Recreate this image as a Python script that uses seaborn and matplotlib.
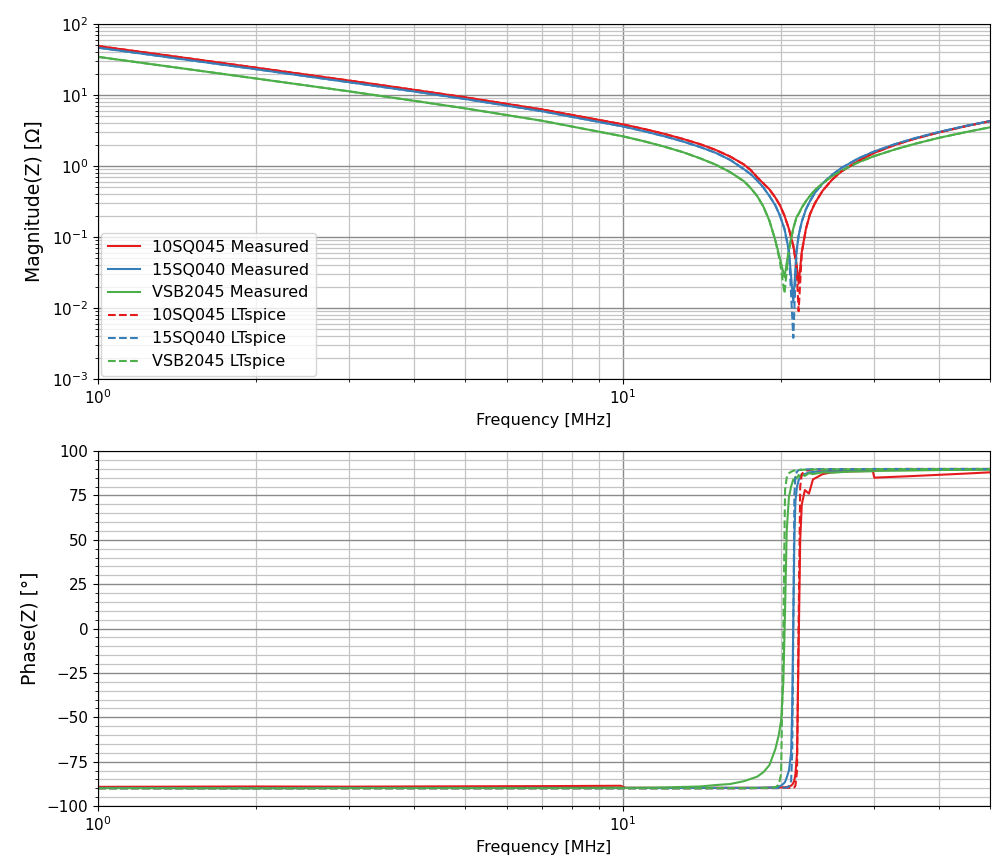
import matplotlib
matplotlib.use("Agg")
import matplotlib.pyplot as plt
from matplotlib.ticker import MultipleLocator
import seaborn as sns

# ---------------- impedance magnitude [Ohm] ----------------
freq_mag = [1.0, 1.5, 2.0, 3.0, 4.0, 5.0, 7.0, 10.0, 11.0, 12.0, 13.0, 14.0,
            15.0, 16.0, 17.0, 17.5, 18.0, 18.5, 19.0, 19.5, 19.9, 20.3, 20.7,
            21.1, 21.4, 21.6, 21.9, 22.3, 22.7, 23.2, 24.0, 25.0, 26.0, 28.0,
            30.0, 33.0, 36.0, 40.0, 45.0, 50.0]

mag_10sq045_meas = [49.0, 32.6, 24.3, 16.05, 11.85, 9.3, 6.28, 3.86, 3.31, 2.83,
                    2.41, 2.04, 1.69, 1.36, 1.05, 0.88, 0.70, 0.57, 0.47, 0.36,
                    0.28, 0.20, 0.13, 0.075, 0.042, 0.022, 0.062, 0.13, 0.21,
                    0.30, 0.45, 0.64, 0.83, 1.17, 1.52, 1.99, 2.43, 2.98, 3.65,
                    4.28]
mag_15sq040_meas = [46.5, 30.9, 23.1, 15.2, 11.23, 8.8, 5.93, 3.61, 3.08, 2.62,
                    2.22, 1.86, 1.54, 1.22, 0.90, 0.77, 0.63, 0.50, 0.38, 0.28,
                    0.20, 0.13, 0.065, 0.012, 0.063, 0.105, 0.165, 0.245, 0.32,
                    0.42, 0.57, 0.75, 0.93, 1.27, 1.59, 2.04, 2.47, 3.02, 3.68,
                    4.30]
mag_vsb2045_meas = [34.5, 22.9, 17.1, 11.3, 8.3, 6.5, 4.35, 2.62, 2.22, 1.87,
                    1.57, 1.29, 1.05, 0.82, 0.61, 0.49, 0.38, 0.27, 0.17, 0.09,
                    0.05, 0.027, 0.068, 0.132, 0.19, 0.212, 0.26, 0.32, 0.38,
                    0.46, 0.57, 0.72, 0.85, 1.12, 1.37, 1.72, 2.06, 2.5, 3.01,
                    3.51]

mag_10sq045_sim = [49.0, 32.6, 24.3, 16.05, 11.85, 9.3, 6.28, 3.86, 3.31, 2.83,
                   2.41, 2.04, 1.69, 1.36, 1.05, 0.88, 0.70, 0.57, 0.47, 0.36,
                   0.28, 0.20, 0.13, 0.075, 0.038, 0.009, 0.060, 0.13, 0.21,
                   0.30, 0.45, 0.64, 0.83, 1.17, 1.52, 1.99, 2.43, 2.98, 3.65,
                   4.28]
mag_15sq040_sim = [46.5, 30.9, 23.1, 15.2, 11.23, 8.8, 5.93, 3.61, 3.08, 2.62,
                   2.22, 1.86, 1.54, 1.22, 0.90, 0.77, 0.63, 0.50, 0.38, 0.28,
                   0.20, 0.13, 0.062, 0.0038, 0.062, 0.105, 0.165, 0.245, 0.32,
                   0.42, 0.57, 0.75, 0.93, 1.27, 1.59, 2.04, 2.47, 3.02, 3.68,
                   4.30]
mag_vsb2045_sim = [34.5, 22.9, 17.1, 11.3, 8.3, 6.5, 4.35, 2.62, 2.22, 1.87,
                   1.57, 1.29, 1.05, 0.82, 0.61, 0.49, 0.38, 0.27, 0.17, 0.09,
                   0.045, 0.016, 0.066, 0.132, 0.19, 0.212, 0.26, 0.32, 0.38,
                   0.46, 0.57, 0.72, 0.85, 1.12, 1.37, 1.72, 2.06, 2.5, 3.01,
                   3.51]

# ---------------- impedance phase [deg] ----------------
freq_ph = [1.0, 2.0, 3.0, 5.0, 7.0, 9.9, 10.1, 12.0, 14.0, 15.0, 16.0, 17.0,
           18.0, 18.5, 19.0, 19.5, 19.8, 20.0, 20.2, 20.35, 20.5, 20.7, 20.9,
           21.0, 21.1, 21.2, 21.3, 21.45, 21.6, 21.75, 21.9, 22.2, 22.6, 23.0,
           24.0, 25.0, 27.0, 29.9, 30.1, 35.0, 40.0, 45.0, 50.0]

ph_10sq045_meas = [-89.2, -89.0, -89.1, -88.9, -88.8, -88.6, -89.7, -89.8, -89.8,
                   -89.7, -89.8, -89.7, -89.8, -89.7, -89.6, -89.6, -89.5, -89.5,
                   -89.4, -89.4, -89.3, -89.0, -88.5, -88.0, -87.0, -85.5, -82.0,
                   -70.0, -10.0, 50.0, 70.0, 78.0, 76.0, 84.0, 87.0, 88.0, 88.5,
                   88.8, 85.0, 85.8, 86.6, 87.3, 88.0]
ph_15sq040_meas = [-89.8, -89.9, -89.8, -89.9, -89.8, -89.9, -89.8, -89.9, -89.8,
                   -89.8, -89.7, -89.8, -89.7, -89.7, -89.6, -89.5, -89.0, -88.5,
                   -87.5, -86.5, -84.0, -80.0, -70.0, -45.0, 5.0, 50.0, 72.0,
                   80.0, 83.5, 85.0, 86.5, 87.0, 88.0, 88.2, 88.6, 88.8, 89.0,
                   89.2, 89.2, 89.4, 89.5, 89.6, 89.7]
ph_vsb2045_meas = [-89.9, -90.1, -89.9, -89.8, -89.9, -89.7, -89.8, -89.5, -89.0,
                   -88.2, -87.6, -86.0, -83.5, -81.0, -77.0, -68.0, -60.0, -52.0,
                   -30.0, 10.0, 55.0, 74.0, 80.0, 82.0, 84.0, 83.0, 85.5, 84.5,
                   86.5, 85.5, 87.0, 86.0, 87.5, 87.0, 88.0, 87.8, 88.4, 88.6,
                   88.8, 89.0, 89.3, 89.4, 89.5]

ph_10sq045_sim = [-90.0, -90.0, -90.0, -90.0, -90.0, -90.0, -90.0, -90.0, -90.0,
                  -90.0, -90.0, -90.0, -89.9, -89.9, -89.9, -89.9, -89.9, -89.8,
                  -89.8, -89.8, -89.8, -89.7, -89.7, -89.6, -89.5, -89.5, -88.5,
                  -80.0, 5.0, 80.0, 87.0, 88.8, 89.3, 89.5, 89.6, 89.7, 89.8,
                  89.8, 89.8, 89.9, 89.9, 89.9, 89.9]
ph_15sq040_sim = [-90.0, -90.0, -90.0, -90.0, -90.0, -90.0, -90.0, -90.0, -90.0,
                  -90.0, -90.0, -90.0, -89.9, -89.9, -89.9, -89.9, -89.8, -89.8,
                  -89.7, -89.7, -89.6, -89.0, -86.0, -70.0, 0.0, 75.0, 86.0,
                  88.5, 89.2, 89.4, 89.5, 89.6, 89.7, 89.7, 89.8, 89.8, 89.8,
                  89.9, 89.9, 89.9, 89.9, 89.9, 89.9]
ph_vsb2045_sim = [-90.0, -90.0, -90.0, -90.0, -90.0, -90.0, -90.0, -90.0, -90.0,
                  -89.9, -89.9, -89.9, -89.8, -89.8, -89.7, -89.5, -88.0, -82.0,
                  0.0, 78.0, 85.0, 87.5, 88.3, 88.6, 88.9, 89.0, 89.1, 89.2,
                  89.3, 89.4, 89.4, 89.5, 89.5, 89.6, 89.6, 89.7, 89.7, 89.8,
                  89.8, 89.8, 89.9, 89.9, 89.9]

parts = ["10SQ045", "15SQ040", "VSB2045"]
mag_meas = [mag_10sq045_meas, mag_15sq040_meas, mag_vsb2045_meas]
mag_sim = [mag_10sq045_sim, mag_15sq040_sim, mag_vsb2045_sim]
ph_meas = [ph_10sq045_meas, ph_15sq040_meas, ph_vsb2045_meas]
ph_sim = [ph_10sq045_sim, ph_15sq040_sim, ph_vsb2045_sim]

colors = sns.color_palette("Set1", 3)

fig = plt.figure(figsize=(9.92, 8.56), dpi=100)
ax1 = fig.add_axes([0.0988, 0.5572, 0.8992, 0.4147])
ax2 = fig.add_axes([0.0988, 0.0584, 0.8992, 0.4147])

for ax in (ax1, ax2):
    ax.set_xscale("log")
ax1.set_yscale("log")

# Measured traces first, simulated (dashed) drawn on top
for name, col, ys in zip(parts, colors, mag_meas):
    sns.lineplot(x=freq_mag, y=ys, ax=ax1, color=col, linewidth=1.5,
                 label=f"{name} Measured", estimator=None, legend=False)
for name, col, ys in zip(parts, colors, mag_sim):
    sns.lineplot(x=freq_mag, y=ys, ax=ax1, color=col, linewidth=1.5,
                 linestyle="--", label=f"{name} LTspice", estimator=None,
                 legend=False)

for col, ys in zip(colors, ph_meas):
    sns.lineplot(x=freq_ph, y=ys, ax=ax2, color=col, linewidth=1.5,
                 estimator=None, legend=False)
for col, ys in zip(colors, ph_sim):
    sns.lineplot(x=freq_ph, y=ys, ax=ax2, color=col, linewidth=1.5,
                 linestyle="--", estimator=None, legend=False)

ax1.set_xlim(1, 50)
ax1.set_ylim(1e-3, 1e2)
ax2.set_xlim(1, 50)
ax2.set_ylim(-100, 100)
ax2.yaxis.set_major_locator(MultipleLocator(25))
ax2.yaxis.set_minor_locator(MultipleLocator(5))

for ax in (ax1, ax2):
    ax.grid(True, which="major", color="#8a8a8a", linewidth=1.0)
    ax.grid(True, which="minor", color="#c4c4c4", linewidth=0.9)
    ax.set_axisbelow(True)
    ax.tick_params(axis="both", which="major", labelsize=11)
    ax.set_xlabel("Frequency [MHz]", fontsize=11.5)

ax1.set_ylabel("Magnitude(Z) [Ω]", fontsize=13.5, labelpad=5.5)
ax2.set_ylabel("Phase(Z) [°]", fontsize=13.5, labelpad=5.5)
fig.align_ylabels([ax1, ax2])

ax1.legend(loc="lower left", fontsize=11.5, borderaxespad=0.2)

fig.savefig("out.png", dpi=100)
